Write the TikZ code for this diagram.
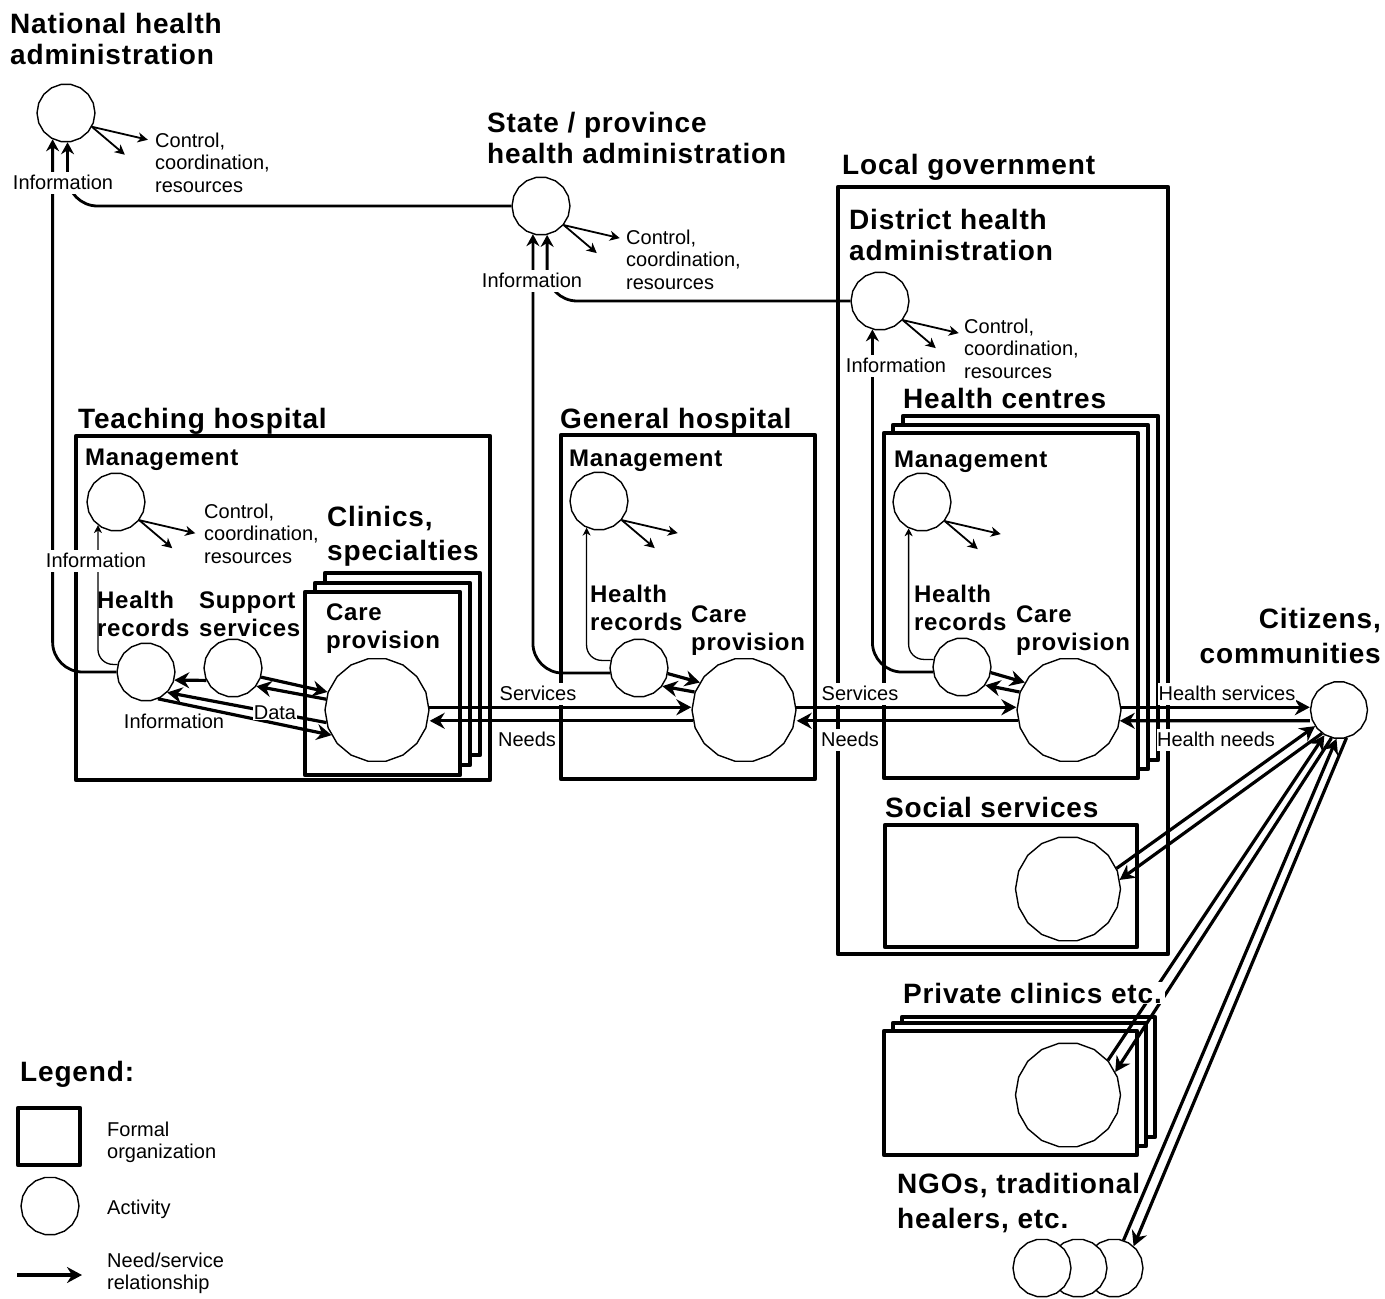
\documentclass[tikz,border=0pt]{standalone}
\usepackage{fontspec}
\setmainfont{Liberation Sans}
\newfontfamily\headfont[LetterSpace=3]{Liberation Sans}
\usetikzlibrary{arrows.meta,shapes.geometric}

\newcommand\txtbig{\headfont\bfseries\fontsize{28}{31}\selectfont}
\newcommand\txtmed{\headfont\bfseries\fontsize{24}{28.5}\selectfont}
\newcommand\txtsmall{\fontsize{20}{22.5}\selectfont}

% multi-line texts are placed by the baseline of their last line
\tikzset{
  org/.style={draw, line width=4.5pt, fill=white, line join=round},
  act/.style={draw, regular polygon, regular polygon sides=18, line width=1.4pt,
    fill=white, inner sep=0pt, minimum size=#1},
  act/.default=58pt,
  rel/.style={line width=3.2pt, -{Stealth[length=15pt,width=16pt,inset=5pt]}},
  report/.style={line width=2.8pt, rounded corners=30pt,
    -{Stealth[length=12pt,width=13pt,inset=4pt]}},
  ctl/.style={line width=1.8pt, -{Stealth[length=10pt,width=10pt,inset=3pt]}},
  infoline/.style={line width=1.3pt, rounded corners=15pt,
    -{Stealth[length=8pt,width=8pt,inset=2.5pt]}},
  hd/.style={inner sep=0pt, anchor=base west, align=left, font=\txtbig},
  subhd/.style={inner sep=0pt, anchor=base west, align=left, font=\txtmed},
  smalltxt/.style={inner sep=0pt, anchor=base west, align=left, font=\txtsmall},
  flowlbl/.style={fill=white, inner xsep=0.5pt, inner ysep=0pt, text height=17pt,
    text depth=5pt, anchor=base, font=\txtsmall},
  datalbl/.style={fill=white, inner sep=0.5pt, anchor=base, font=\txtsmall},
}

\begin{document}
\begin{tikzpicture}[x=1pt, y=-1pt]
\useasboundingbox (0,0) rectangle (1385,1299);

% ---- formal organizations ----
\draw[org] (76,436) rectangle (490,780);      % teaching hospital
\draw[org] (325,573) rectangle (480,755);     % clinics stack
\draw[org] (315,583) rectangle (470,765);
\draw[org] (305,592) rectangle (460,775);
\draw[org] (561,435) rectangle (815,779);     % general hospital
\draw[org] (838,187) rectangle (1168,954);    % local government
\draw[org] (903,416) rectangle (1158,760);    % health centres stack
\draw[org] (893,425) rectangle (1148,769);
\draw[org] (884,433) rectangle (1138,778);
\draw[org] (885,825) rectangle (1137,947);    % social services
\draw[org] (902,1017) rectangle (1155,1137);  % private clinics stack
\draw[org] (893,1023) rectangle (1146,1146);
\draw[org] (884,1031) rectangle (1137,1155);

% ---- activities ----
\node[act] (nat) at (66,113) {};
\node[act] (state) at (541,206) {};
\node[act] (dist) at (880,301) {};
\node[act] (tman) at (116,502) {};
\node[act] (trec) at (146,672) {};
\node[act] (sup) at (233,668) {};
\node[act=104pt] (tcare) at (377,710) {};
\node[act] (gman) at (599,501) {};
\node[act] (grec) at (639,668) {};
\node[act=104pt] (gcare) at (744,710) {};
\node[act] (hman) at (922,502) {};
\node[act] (hrec) at (962,667) {};
\node[act=104pt] (hcare) at (1069,710) {};
\node[act=105pt] (soc) at (1068,889) {};
\node[act=105pt] (priv) at (1068,1095) {};
\node[act=57pt] (cit) at (1339,710) {};
\node[act] (ngoC) at (1114,1268) {};
\node[act] (ngoB) at (1078,1268) {};
\node[act] (ngoA) at (1042,1268) {};

% ---- information flowing upwards ----
\draw[report] (trec.180) -| (nat.243);
\draw[report] (state.180) -| (nat.273);
\draw[report] (grec.190) -| (state.254);
\draw[report] (dist.180) -| (state.282);
\draw[report] (hrec.190) -| (dist.255);

\draw[infoline] (trec.165) -| (tman.232);
\draw[infoline] (grec.165) -| (gman.245);
\draw[infoline] (hrec.165) -| (hman.243);

% ---- control, coordination, resources ----
\foreach \n/\a in {nat/-28, state/-40, dist/-40, tman/-38, gman/-40, hman/-40}{
  \draw[ctl] (\n.\a) -- ++(56,13);
  \draw[ctl] (\n.\a) -- ++(33,28);
}

% ---- exchanges inside the hospitals and centres ----
\draw[rel] (grec.-11) -- (gcare.148);
\draw[rel] (gcare.160) -- (grec.-38);
\draw[rel] (hrec.-11) -- (hcare.148);
\draw[rel] (hcare.160) -- (hrec.-38);
\draw[rel] (sup.-18) -- (tcare.160);
\draw[rel] (tcare.168) -- (sup.-38);
\draw[rel] (sup.205) -- (trec.-16);
\draw[rel] (trec.-66) -- (tcare.209);
\draw[rel] (tcare.194) -- (trec.-44);

% ---- services and needs ----
\draw[rel] (tcare.3) -- (tcare.3 -| gcare.180);
\draw[rel] (gcare.192) -- (gcare.192 -| tcare.0);
\draw[rel] (gcare.3) -- (gcare.3 -| hcare.180);
\draw[rel] (hcare.192) -- (hcare.192 -| gcare.0);
\draw[rel] (hcare.3) -- (hcare.3 -| cit.180);
\draw[rel] (cit.180 |- hcare.192) -- (hcare.-12);

\draw[rel] (soc.23) -- (cit.214);
\draw[rel] (cit.234) -- (soc.10);
\draw[rel] (priv.41) -- (cit.240);
\draw[rel] (cit.255) -- (priv.26);
\draw[rel] (ngoC.71) -- (cit.265);
\draw[rel] (cit.285) -- (ngoC.48);

% ---- connector labels ----
\node[flowlbl] (lsv1) at (538,700) {Services};
\node[flowlbl] (lnd1) at (527,746) {Needs};
\node[flowlbl] (lsv2) at (860,700) {Services};
\node[flowlbl] (lnd2) at (850,746) {Needs};
\node[flowlbl] (lsv3) at (1227,700) {Health services};
\node[flowlbl] (lnd3) at (1216,746) {Health needs};
\node[flowlbl] (linf1) at (63,189) {Information};
\node[flowlbl] (linf2) at (532,287) {Information};
\node[flowlbl] (linf3) at (896,372) {Information};
\node[flowlbl] (linf4) at (96,567) {Information};
\node[smalltxt, anchor=base] (linf5) at (174,728) {Information};
\node[datalbl] (ldata) at (275,719) {Data};

\node[smalltxt] (cnat) at (155,192) {Control,\\coordination,\\resources};
\node[smalltxt] (cstate) at (626,289) {Control,\\coordination,\\resources};
\node[smalltxt] (cdist) at (964,378) {Control,\\coordination,\\resources};
\node[smalltxt] (cteach) at (204,563) {Control,\\coordination,\\resources};

% ---- titles ----
\node[hd] (tnat) at (10,64) {National health\\administration};
\node[hd] (tstate) at (487,163) {State / province\\health administration};
\node[hd] (tlocal) at (842,174) {Local government};
\node[hd] (tdist) at (849,260) {District health\\administration};
\node[hd] (tteach) at (78,428) {Teaching hospital};
\node[hd] (tgen) at (560,428) {General hospital};
\node[hd] (thc) at (903,408) {Health centres};
\node[hd] (tsoc) at (885,817) {Social services};
\node[hd, fill=white, inner xsep=3pt, inner ysep=1pt] (tpriv) at (900,1003) {Private clinics etc.};
\node[hd] (tngo) at (897,1228) {NGOs, traditional\\[4pt]healers, etc.};
\node[hd] (tclin) at (327,560) {Clinics,\\[3pt]specialties};
\node[hd, anchor=base east, align=right] (tcit) at (1381,663) {Citizens,\\[4pt]communities};

\node[subhd] (mteach) at (85,465) {Management};
\node[subhd] (mgen) at (569,466) {Management};
\node[subhd] (mhc) at (894,467) {Management};
\node[subhd] (rteach) at (97,636.5) {Health\\records};
\node[subhd] (steach) at (199,636.5) {Support\\services};
\node[subhd] (pteach) at (326,648.5) {Care\\provision};
\node[subhd] (rgen) at (590,630.5) {Health\\records};
\node[subhd] (pgen) at (691,650.5) {Care\\provision};
\node[subhd] (rhc) at (914,630.5) {Health\\records};
\node[subhd] (phc) at (1016,650.5) {Care\\provision};

% ---- legend ----
\node[hd] (tleg) at (20,1081) {Legend:};
\draw[org] (18,1108) rectangle (80,1165);
\node[smalltxt] (lorg) at (107,1158.5) {Formal\\organization};
\node[act] (legact) at (50,1206) {};
\node[smalltxt] (lact) at (107,1214) {Activity};
\coordinate (lgA) at (17,1275);
\coordinate (lgB) at (82,1275);
\draw[rel] (lgA) -- (lgB);
\node[smalltxt] (lrel) at (107,1289.5) {Need/service\\relationship};
\end{tikzpicture}
\end{document}
